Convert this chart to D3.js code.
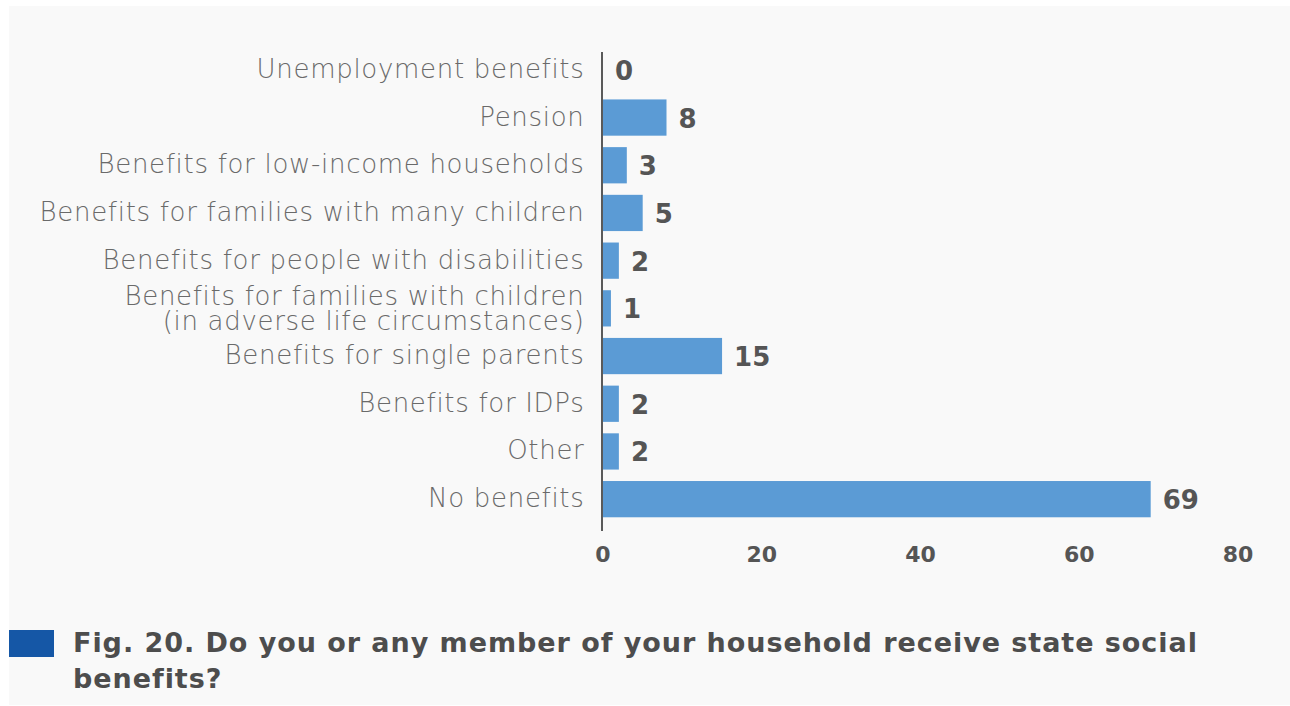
<!DOCTYPE html>
<html><head><meta charset="utf-8">
<script src="https://cdn.jsdelivr.net/npm/d3@7"></script>
<style>
html,body{margin:0;padding:0;background:#fff;}
svg{display:block;}
</style></head>
<body>
<svg id="chart" width="1290" height="706"></svg>
<script>
const categories = [
  "Unemployment benefits",
  "Pension",
  "Benefits for low-income households",
  "Benefits for families with many children",
  "Benefits for people with disabilities",
  "Benefits for families with children\n(in adverse life circumstances)",
  "Benefits for single parents",
  "Benefits for IDPs",
  "Other",
  "No benefits"
];
const values = [0, 8, 3, 5, 2, 1, 15, 2, 2, 69];
const xTicks = [0, 20, 40, 60, 80];
const titleLines = ["Fig. 20. Do you or any member of your household receive state social", "benefits?"];

const svg = d3.select("#chart");
svg.append("rect").attr("x", 9).attr("y", 6).attr("width", 1281).attr("height", 699).attr("fill", "#f9f9f9");

const x = d3.scaleLinear().domain([0, 80]).range([603, 1238]);
const y = d3.scaleBand().domain(categories).range([46, 523]).paddingInner(0.24).paddingOuter(0.12);

const labelFont = "'DejaVu Sans', sans-serif";
const boldFont = "'DejaVu Sans', sans-serif";

// bars
svg.append("g").selectAll("rect").data(values).join("rect")
  .attr("x", x(0))
  .attr("y", (d, i) => y(categories[i]))
  .attr("width", d => x(d) - x(0))
  .attr("height", y.bandwidth())
  .attr("fill", "#5b9bd5");

// axis line
svg.append("line").attr("x1", x(0) - 1).attr("x2", x(0) - 1).attr("y1", 52).attr("y2", 531)
  .attr("stroke", "#5a5a5a").attr("stroke-width", 2);

// category labels
const lab = svg.append("g");
categories.forEach((c, i) => {
  const lines = c.split("\n");
  const cy = y(c) + y.bandwidth() / 2;
  const t = lab.append("text").attr("text-anchor", "end")
    .attr("font-family", labelFont).attr("font-weight", 200)
    .attr("font-size", 26).attr("letter-spacing", 0.7).attr("fill", "#6a6a6a");
  lines.forEach((ln, j) => {
    const off = lines.length === 1 ? 8 : (j === 0 ? -3.5 : 21.5);
    t.append("tspan").attr("x", 584.5).attr("y", cy + off).text(ln);
  });
});

// value labels
svg.append("g").selectAll("text").data(values).join("text")
  .attr("x", d => x(d) + 12)
  .attr("y", (d, i) => y(categories[i]) + y.bandwidth() / 2 + 10)
  .attr("font-family", boldFont).attr("font-weight", 700)
  .attr("font-size", 26).attr("fill", "#555")
  .text(d => d);

// x ticks
svg.append("g").selectAll("text").data(xTicks).join("text")
  .attr("x", d => x(d)).attr("y", 562).attr("text-anchor", "middle")
  .attr("font-family", boldFont).attr("font-weight", 700)
  .attr("font-size", 22).attr("fill", "#555")
  .text(d => d);

// title
svg.append("rect").attr("x", 9).attr("y", 630).attr("width", 45).attr("height", 27).attr("fill", "#1557a6");
const tt = svg.append("text").attr("font-family", boldFont).attr("font-weight", 700)
  .attr("font-size", 27).attr("letter-spacing", 0.95).attr("fill", "#4d4d4d");
titleLines.forEach((ln, j) => tt.append("tspan").attr("x", 73).attr("y", 652 + j * 36).text(ln));
</script>
</body></html>
